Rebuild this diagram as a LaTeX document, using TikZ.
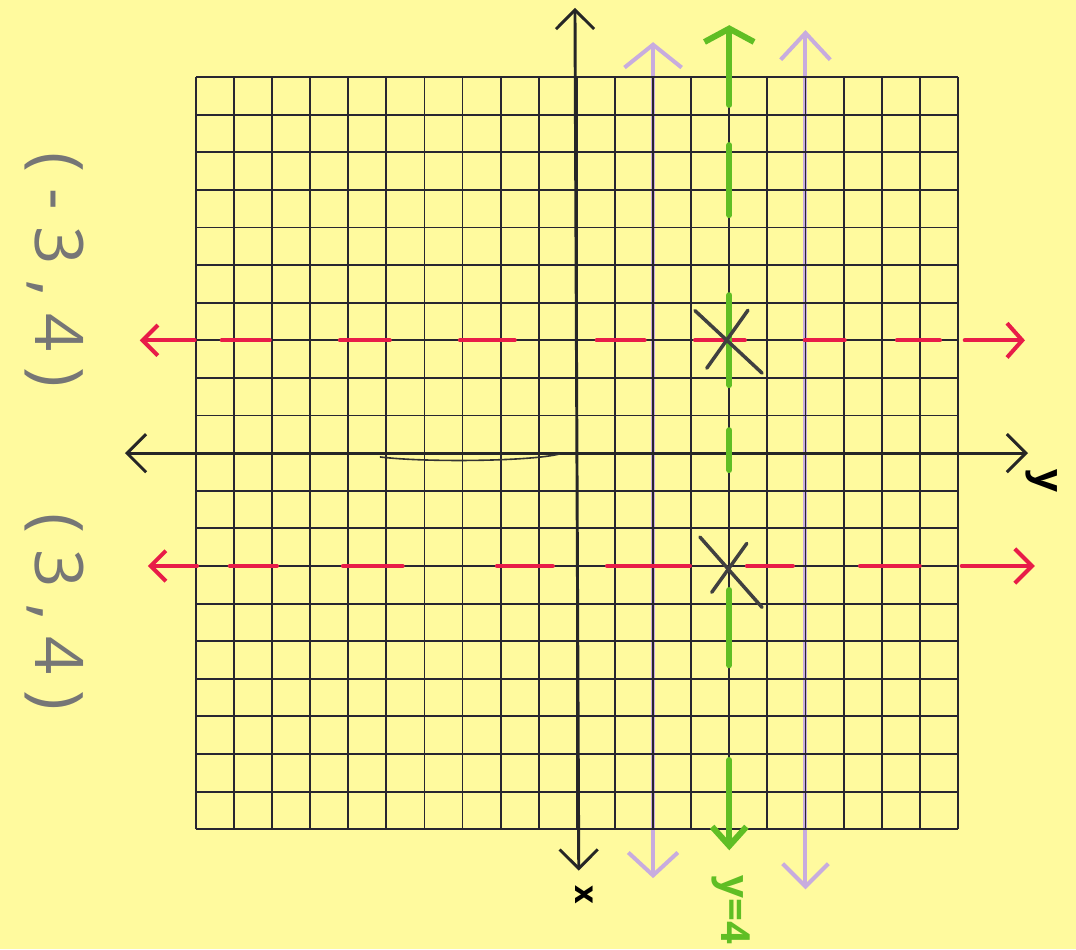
\documentclass[tikz,border=0pt]{standalone}
\usepackage{fontspec}
\usetikzlibrary{arrows.meta, calc}
\newfontfamily\handfont[LetterSpace=24]{Open Sans}
\newfontfamily\penfont{Open Sans}
\definecolor{paper}{RGB}{255,250,158}
\definecolor{penred}{RGB}{232,28,72}
\definecolor{pengreen}{RGB}{96,190,36}
\definecolor{penpurple}{RGB}{200,172,222}
\definecolor{pengray}{RGB}{118,118,118}
\definecolor{gridink}{RGB}{40,38,48}

\begin{document}
\begin{tikzpicture}[x=1cm, y=0.987cm,
    gridline/.style={gridink, line width=1.4pt},
    axisline/.style={black!85, line width=2.2pt, line cap=round},
    redpen/.style={penred, line width=3pt, line cap=round},
    greenpen/.style={pengreen, line width=4.5pt, line cap=round},
    purplepen/.style={penpurple, line width=3pt, line cap=round},
    bothheads/.style={{Straight Barb[length=0.5cm, width=1.0cm]}-{Straight Barb[length=0.5cm, width=1.0cm]}}]
    \fill[paper] (-15.14,-13.19) rectangle (13.10,12.05);
    \useasboundingbox (-15.14,-13.19) rectangle (13.10,12.05);

    % purple lines first, the grid sits on top of them
    \draw[purplepen, {Straight Barb[length=0.6cm, width=1.5cm]}-{Straight Barb[length=0.6cm, width=1.3cm]}] (2,10.93) -- (2,-11.3);
    \draw[purplepen, {Straight Barb[length=0.7cm, width=1.3cm]}-{Straight Barb[length=0.6cm, width=1.2cm]}] (6,11.25) -- (6,-11.6);

    % the squared paper
    \foreach \i in {-10,...,10} {
        \draw[gridline] (\i,-10) -- (\i,10);
        \draw[gridline] (-10,\i) -- (10,\i);
    }

    % axes
    \draw[axisline, bothheads] (-0.05,11.84) -- (0.05,-11.1);
    \draw[axisline, bothheads] (-11.86,0) -- (11.84,0);
    \draw[black!80, line width=1.2pt] (-5.17,-0.1) .. controls (-4,-0.25) and (-1.2,-0.22) .. (-0.45,-0.02);
    \node[rotate=-90, font=\penfont\bfseries\fontsize{24}{24}\selectfont] (xlabel) at (0.2,-11.75) {x};
    \node[rotate=-90, font=\penfont\bfseries\fontsize{30}{30}\selectfont] (ylabel) at (12.2,-0.75) {y};

    % red dashed lines through the two points
    \draw[redpen, {Straight Barb[length=0.4cm, width=0.8cm]}-] (-11.47,3) -- (-10.03,3);
    \foreach \a/\b in {-9.32/-8.06, -6.22/-4.91, -3.07/-1.63, 0.52/1.78, 3.10/4.41, 5.98/7.03, 8.40/9.53}
        \draw[redpen] (\a,3) -- (\b,3);
    \draw[redpen, -{Straight Barb[length=0.4cm, width=0.9cm]}] (10.18,3) -- (11.76,3);

    \draw[redpen, {Straight Barb[length=0.4cm, width=0.8cm]}-] (-11.26,-3) -- (-9.97,-3);
    \foreach \a/\b in {-9.11/-7.87, -6.14/-4.57, -2.10/-0.63, 0.79/2.97, 4.46/5.67, 7.43/9.0}
        \draw[redpen] (\a,-3) -- (\b,-3);
    \draw[redpen, -{Straight Barb[length=0.45cm, width=0.9cm]}] (10.1,-3) -- (12.02,-3);

    % green dashed line y=4
    \draw[greenpen, {Straight Barb[length=0.35cm, width=1.3cm]}-] (4.0,11.38) -- (4.0,9.26);
    \foreach \a/\b in {8.19/6.33, 4.20/1.81, 0.61/-0.45, -3.64/-5.64}
        \draw[greenpen] (4.0,\a) -- (4.0,\b);
    \draw[greenpen, -{Straight Barb[length=0.5cm, width=0.9cm]}] (4.0,-8.16) -- (4.0,-10.56);
    \node[rotate=-90, pengreen, font=\penfont\bfseries\fontsize{30}{30}\selectfont] (linelabel) at (4.05,-12.15) {y=4};

    % the two points
    \coordinate (ptA) at (4.0,3.0);
    \coordinate (ptB) at (4.0,-3.0);
    \draw[black!75, line width=2.6pt, line cap=round] ($(ptA)+(-0.9,0.79)$) -- ($(ptA)+(0.86,-0.87)$);
    \draw[black!75, line width=2.6pt, line cap=round] ($(ptA)+(-0.59,-0.74)$) -- ($(ptA)+(0.49,0.8)$);
    \draw[black!75, line width=2.6pt, line cap=round] ($(ptB)+(-0.77,0.77)$) -- ($(ptB)+(0.86,-1.1)$);
    \draw[black!75, line width=2.6pt, line cap=round] ($(ptB)+(-0.46,-0.7)$) -- ($(ptB)+(0.46,0.6)$);

    % written coordinates on the left
    \node[rotate=-90, pengray, font=\handfont\fontsize{50}{50}\selectfont] (ptAlabel) at (-13.7,4.87) {(-3,4)};
    \node[rotate=-90, pengray, font=\handfont\fontsize{50}{50}\selectfont] (ptBlabel) at (-13.7,-4.23) {(3,4)};
\end{tikzpicture}
\end{document}
